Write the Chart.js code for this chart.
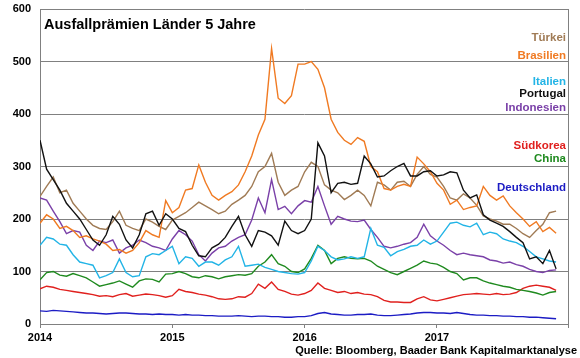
<!DOCTYPE html>
<html><head><meta charset="utf-8">
<script src="https://cdn.jsdelivr.net/npm/chart.js@4/dist/chart.umd.min.js"></script>
<style>html,body{margin:0;padding:0;background:#fff}#wrap{width:580px;height:358px;position:relative}</style>
</head><body><div id="wrap"><canvas id="c" width="580" height="358"></canvas></div>
<script>
// time axis: decimal years
const dates = [2014.00,2014.05,2014.10,2014.15,2014.20,2014.25,2014.30,2014.35,2014.40,2014.45,
2014.50,2014.55,2014.60,2014.65,2014.70,2014.75,2014.80,2014.85,2014.90,2014.95,
2015.00,2015.05,2015.10,2015.15,2015.20,2015.25,2015.30,2015.35,2015.40,2015.45,
2015.50,2015.55,2015.60,2015.65,2015.70,2015.75,2015.80,2015.85,2015.90,2015.95,
2016.00,2016.05,2016.10,2016.15,2016.20,2016.25,2016.30,2016.35,2016.40,2016.45,
2016.50,2016.55,2016.60,2016.65,2016.70,2016.75,2016.80,2016.85,2016.90,2016.95,
2017.00,2017.05,2017.10,2017.15,2017.20,2017.25,2017.30,2017.35,2017.40,2017.45,
2017.50,2017.55,2017.60,2017.65,2017.70,2017.75,2017.80,2017.85,2017.90];
const yearTicks = [2014, 2015, 2016, 2017, 2017.99];
const yTicks = [0, 100, 200, 300, 400, 500, 600];

const portugal = [350,295,275,255,230,215,200,180,160,150,
170,205,190,160,145,170,210,215,188,210,
200,182,176,150,130,128,145,152,165,186,
205,170,148,178,175,168,150,196,178,172,
178,200,345,320,250,268,270,266,268,320,
305,280,282,292,300,306,282,282,290,292,
282,284,290,288,255,240,246,208,198,192,
186,176,165,155,124,128,115,140,105];
const brasilien = [192,208,200,182,186,178,165,168,162,158,
152,140,142,135,140,155,178,170,165,235,
212,222,255,258,303,270,245,236,245,252,
265,290,320,360,390,525,430,420,435,495,
495,500,485,450,390,365,350,342,355,348,
300,290,258,255,262,266,262,318,305,290,
268,255,228,236,218,222,225,262,245,236,
244,225,212,200,186,195,176,184,173];
const tuerkei = [243,262,280,250,255,230,215,200,188,182,
180,195,215,188,182,178,200,194,186,180,
198,205,212,222,232,225,218,210,215,228,
236,245,262,290,300,325,270,245,255,262,
290,308,300,265,255,250,237,245,255,245,
225,270,265,255,270,272,262,285,300,285,
280,262,240,236,248,240,226,206,200,196,
190,190,182,172,165,178,190,212,215];
const italien = [150,165,162,152,150,132,118,115,112,88,
92,98,124,98,90,92,128,134,132,140,
148,115,128,125,110,118,118,112,122,128,
148,110,112,114,108,104,100,98,96,95,
98,120,148,140,128,122,124,128,125,128,
182,150,146,130,138,142,148,150,160,152,
158,175,192,194,188,185,192,170,175,172,
162,158,155,148,138,128,124,120,118];
const indonesien = [240,236,215,195,172,178,175,150,140,158,
155,160,135,145,150,160,155,148,145,140,
162,178,170,158,132,120,135,145,148,158,
165,170,198,240,212,275,218,224,210,225,
235,232,262,225,190,205,200,196,195,198,
180,165,148,145,148,152,155,165,190,168,
158,150,140,132,135,132,130,128,122,120,
116,118,113,110,104,100,98,102,103];
const china = [84,98,100,93,91,96,92,88,80,72,
75,78,82,76,70,82,86,85,80,95,
96,100,96,90,88,92,90,86,90,92,
94,93,96,110,118,132,115,110,100,98,
105,125,150,140,115,125,128,125,124,125,
120,110,104,98,94,100,106,112,120,116,
114,108,100,96,84,88,88,82,78,75,
72,70,66,64,62,59,55,60,62];
const suedkorea = [67,72,70,66,64,62,60,58,56,53,
54,52,56,58,53,55,57,56,54,51,
54,66,62,60,57,55,52,48,47,48,
52,51,58,76,68,80,66,62,57,55,
58,64,78,68,64,60,62,58,60,57,
56,52,45,42,42,41,41,48,52,46,
44,47,50,53,56,57,58,57,56,58,
56,57,60,68,72,74,72,70,64];
const deutschland = [25,24,26,25,24,23,22,21,21,20,
19,20,21,21,20,19,19,18,19,18,
18,17,18,17,17,16,16,15,15,15,
16,15,14,15,15,14,14,13,13,14,
14,16,20,22,19,18,17,17,18,18,
19,17,16,16,17,18,19,21,22,22,
21,21,20,22,20,18,17,17,16,16,
15,15,14,14,13,13,12,11,10];

const seriesDefs = [
  {name:'Portugal', data:portugal, color:'#111111', labelY:97},
  {name:'Brasilien', data:brasilien, color:'#F07A22', labelY:59},
  {name:'Türkei', data:tuerkei, color:'#A07B55', labelY:40.5},
  {name:'Italien', data:italien, color:'#22B4E6', labelY:84.5},
  {name:'Indonesien', data:indonesien, color:'#7A40A8', labelY:111},
  {name:'China', data:china, color:'#1F8A1F', labelY:162},
  {name:'Südkorea', data:suedkorea, color:'#E0201E', labelY:149},
  {name:'Deutschland', data:deutschland, color:'#1C1CC4', labelY:190.5}
];

const FONT = "Arial, 'Liberation Sans', Helvetica, sans-serif";

const textPlugin = {
  id: 'texts',
  afterDraw(chart) {
    const ctx = chart.ctx, a = chart.chartArea;
    ctx.save();
    ctx.strokeStyle = '#808080'; ctx.lineWidth = 1;
    ctx.beginPath(); ctx.moveTo(Math.round(a.right) + 0.5, a.top); ctx.lineTo(Math.round(a.right) + 0.5, a.bottom); ctx.stroke();
    ctx.fillStyle = '#000';
    ctx.textBaseline = 'alphabetic';
    ctx.textAlign = 'left';
    ctx.font = 'bold 14.5px ' + FONT;
    ctx.fillText('Ausfallprämien Länder 5 Jahre', 44, 28.5);
    ctx.textAlign = 'right';
    ctx.font = 'bold 11.5px ' + FONT;
    seriesDefs.forEach(s => { ctx.fillStyle = s.color; ctx.fillText(s.name, 566, s.labelY); });
    ctx.fillStyle = '#000';
    ctx.font = 'bold 11px ' + FONT;
    ctx.fillText('Quelle: Bloomberg, Baader Bank Kapitalmarktanalyse', 577, 353.5);
    ctx.restore();
  }
};

new Chart(document.getElementById('c'), {
  type: 'line',
  data: {
    datasets: seriesDefs.map(s => ({
      label: s.name,
      data: dates.map((d, i) => ({x: d, y: s.data[i]})),
      borderColor: s.color,
      backgroundColor: s.color,
      borderWidth: 1.4,
      pointRadius: 0,
      tension: 0,
      fill: false
    }))
  },
  options: {
    responsive: false,
    animation: false,
    devicePixelRatio: 1,
    layout: {padding: {top: 9, right: 12, left: 0, bottom: 0}},
    plugins: {legend: {display: false}, tooltip: {enabled: false}},
    scales: {
      x: {
        type: 'linear', min: 2014, max: 2017.99,
        afterFit: s => { s.height = 34; s.paddingLeft = 0; s.paddingRight = 0; },
        afterBuildTicks: s => { s.ticks = yearTicks.map(v => ({value: v})); },
        ticks: {
          autoSkip: false, maxRotation: 0, padding: 3,
          callback: v => Number.isInteger(v) ? String(v) : '',
          font: {family: FONT, size: 11, weight: 'bold'}, color: '#000'
        },
        grid: {drawOnChartArea: false, drawTicks: true, tickLength: 4, color: '#808080'},
        border: {color: '#808080', width: 1}
      },
      y: {
        min: 0, max: 600,
        afterFit: s => { s.width = 40; s.paddingTop = 0; s.paddingBottom = 0; },
        afterBuildTicks: s => { s.ticks = yTicks.map(v => ({value: v})); },
        ticks: {padding: 9, font: {family: FONT, size: 11, weight: 'bold'}, color: '#000'},
        grid: {color: '#808080', drawTicks: false, lineWidth: 1},
        border: {color: '#808080', width: 1}
      }
    }
  },
  plugins: [textPlugin]
});
</script></body></html>
